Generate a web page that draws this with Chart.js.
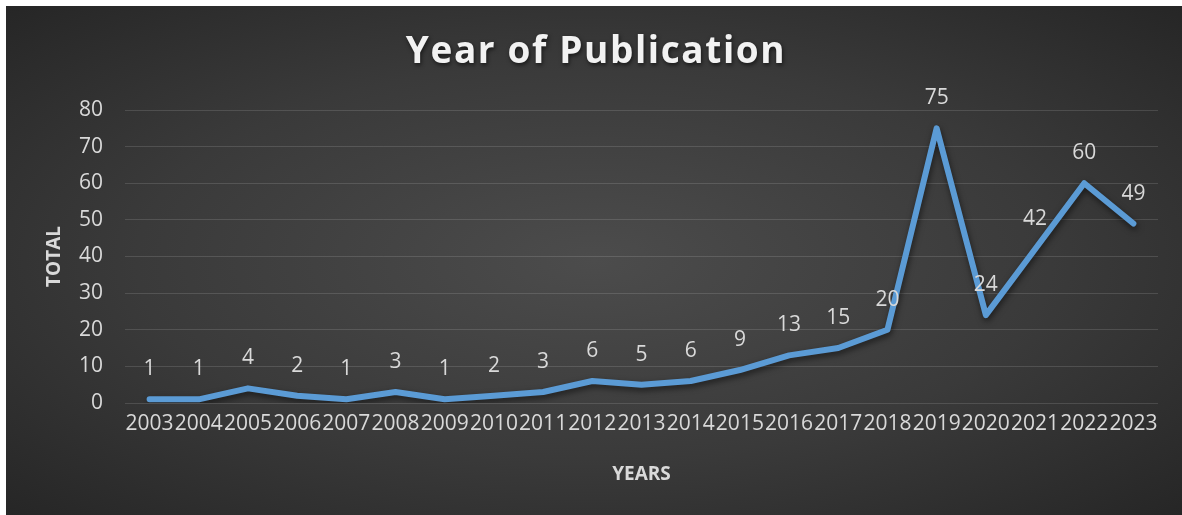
<!DOCTYPE html>
<html>
<head>
<meta charset="utf-8">
<script src="https://cdn.jsdelivr.net/npm/chart.js@4"></script>
<style>
  html, body { margin: 0; padding: 0; background: #ffffff; }
  #wrap {
    position: absolute;
    left: 6px;
    top: 6px;
    width: 1176px;
    height: 509px;
    background: radial-gradient(ellipse at 50% 50%, #4c4c4c 0%, #3a3a3a 55%, #262626 100%);
  }
  canvas { display: block; }
</style>
</head>
<body>
<div id="wrap">
  <canvas id="pubChart" width="1176" height="509"></canvas>
</div>
<script>
const years = ['2003', '2004', '2005', '2006', '2007', '2008', '2009', '2010', '2011', '2012', '2013',
  '2014', '2015', '2016', '2017', '2018', '2019', '2020', '2021', '2022', '2023'];
const totals = [1, 1, 4, 2, 1, 3, 1, 2, 3, 6, 5, 6, 9, 13, 15, 20, 75, 24, 42, 60, 49];
const yTicks = [0, 10, 20, 30, 40, 50, 60, 70, 80];

const chartTitle = 'Year of Publication';
const labelColor = '#d9d9d9';

// title drawn by hand so it can be letter-spaced and shadowed
const titlePlugin = {
  id: 'bigTitle',
  afterDraw(chart) {
    const ctx = chart.ctx;
    ctx.save();
    ctx.font = 'bold 37px "Open Sans"';
    ctx.letterSpacing = '1.6px';
    ctx.textAlign = 'center';
    ctx.textBaseline = 'middle';
    ctx.shadowColor = 'rgba(0,0,0,0.6)';
    ctx.shadowBlur = 4;
    ctx.shadowOffsetX = 1;
    ctx.shadowOffsetY = 2;
    ctx.fillStyle = '#f2f2f2';
    ctx.fillText(chartTitle, chart.width / 2 + 2, 46);
    ctx.restore();
  }
};

// value labels above each point
const valueLabels = {
  id: 'valueLabels',
  afterDatasetsDraw(chart) {
    const ctx = chart.ctx;
    const meta = chart.getDatasetMeta(0);
    ctx.save();
    ctx.font = '21px "Open Sans"';
    ctx.fillStyle = labelColor;
    ctx.textAlign = 'center';
    ctx.textBaseline = 'middle';
    meta.data.forEach((pt, i) => {
      ctx.fillText(String(totals[i]), pt.x, pt.y - 30);
    });
    ctx.restore();
  }
};

// soft shadow under the line
const lineShadow = {
  id: 'lineShadow',
  beforeDatasetsDraw(chart) {
    const ctx = chart.ctx;
    ctx.save();
    ctx.shadowColor = 'rgba(0,0,0,0.55)';
    ctx.shadowBlur = 6;
    ctx.shadowOffsetX = 1;
    ctx.shadowOffsetY = 3;
  },
  afterDatasetsDraw(chart) {
    chart.ctx.restore();
  }
};

const pubChart = new Chart(document.getElementById('pubChart'), {
  type: 'line',
  data: {
    labels: years,
    datasets: [{
      label: 'TOTAL',
      data: totals,
      borderColor: '#5b9bd5',
      borderWidth: 6,
      borderJoinStyle: 'round',
      borderCapStyle: 'round',
      pointRadius: 0,
      pointHoverRadius: 0,
      tension: 0,
      fill: false,
    }]
  },
  options: {
    responsive: false,
    animation: false,
    events: [],
    layout: {
      padding: { top: 104, right: 24, bottom: 29, left: 37 }
    },
    plugins: {
      legend: { display: false },
      tooltip: { enabled: false },
      title: { display: false },
    },
    scales: {
      x: {
        type: 'category',
        offset: true,
        grid: { display: false, drawTicks: false },
        border: { display: false },
        ticks: {
          color: labelColor,
          font: { family: 'Open Sans', size: 21 },
          autoSkip: false,
          maxRotation: 0,
          minRotation: 0,
          padding: 8,
        },
        title: {
          display: true,
          text: 'YEARS',
          color: labelColor,
          font: { family: 'Open Sans', size: 19, weight: 'bold' },
          padding: { top: 4, bottom: 0 },
        },
        afterFit(scale) { scale.height = 83; }
      },
      y: {
        min: yTicks[0],
        max: yTicks[yTicks.length - 1],
        afterBuildTicks(scale) { scale.ticks = yTicks.map(v => ({ value: v })); },
        grid: { color: 'rgba(255,255,255,0.13)', lineWidth: 1, drawTicks: false },
        border: { display: false },
        ticks: {
          color: labelColor,
          font: { family: 'Open Sans', size: 21 },
          padding: 22,
        },
        title: {
          display: true,
          text: 'TOTAL',
          color: labelColor,
          font: { family: 'Open Sans', size: 19, weight: 'bold' },
          padding: { top: 0, bottom: 0 },
        },
        afterFit(scale) { scale.width = 82; }
      }
    }
  },
  plugins: [lineShadow, valueLabels, titlePlugin]
});
</script>
</body>
</html>
